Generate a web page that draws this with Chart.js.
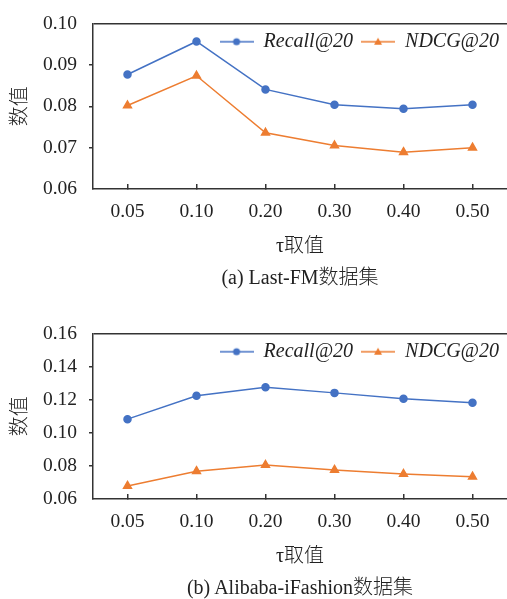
<!DOCTYPE html>
<html>
<head>
<meta charset="utf-8">
<script src="https://cdn.jsdelivr.net/npm/chart.js@4.4.0/dist/chart.umd.min.js"></script>
<style>
  html, body { margin: 0; background: #fff; overflow: hidden; }
  .box { position: absolute; left: 0; width: 507px; height: 289px; }
  .cap { position: absolute; left: 93px; width: 414px; text-align: center;
         font: 300 20px "Liberation Serif", "Noto Sans CJK SC", serif; color: #222;
         line-height: 24px; }
</style>
</head>
<body>
<div class="box" style="top:0"><canvas id="lastfm"></canvas></div>
<div class="cap" style="top:265px">(a) Last-FM数据集</div>
<div class="box" style="top:310px"><canvas id="alibaba"></canvas></div>
<div class="cap" style="top:575px">(b) Alibaba-iFashion数据集</div>
<script>
// valores de tau
const tauLabels = ["0.05", "0.10", "0.20", "0.30", "0.40", "0.50"];

// Last-FM
const lastfmRecall = [0.0877, 0.0957, 0.0841, 0.0804, 0.0794, 0.0804];
const lastfmNdcg = [0.0802, 0.0874, 0.0736, 0.0705, 0.0689, 0.0700];

// Alibaba-iFashion
const aliRecall = [0.1083, 0.1225, 0.1276, 0.1242, 0.1207, 0.1182];
const aliNdcg = [0.0679, 0.0768, 0.0805, 0.0776, 0.0751, 0.0735];

const azul = '#4472C4';
const naranja = '#ED7D31';
const ejeColor = '#333333';
const serif = '"Liberation Serif", "Noto Sans CJK SC", serif';

// icono de leyenda: linea con marcador
function iconoLeyenda(color, forma) {
    const c = document.createElement('canvas');
    c.width = 34;
    c.height = 10;
    const g = c.getContext('2d');
    g.strokeStyle = color;
    g.fillStyle = color;
    g.lineWidth = 1.5;
    g.beginPath();
    g.moveTo(0, 5);
    g.lineTo(34, 5);
    g.stroke();
    g.beginPath();
    if (forma === 'circle') {
        g.arc(17, 5, 3.5, 0, Math.PI * 2);
    } else {
        g.moveTo(17, 1);
        g.lineTo(21, 8);
        g.lineTo(13, 8);
        g.closePath();
    }
    g.fill();
    return c;
}

const iconos = [iconoLeyenda(azul, 'circle'), iconoLeyenda(naranja, 'triangle')];

// la leyenda va dentro del area del grafico: no ocupa alto en el layout
const leyendaDentro = {
    id: 'leyendaDentro',
    beforeLayout(chart) {
        const lg = chart.legend;
        if (lg && !lg._dentro) {
            const fitOrig = lg.fit;
            lg.fit = function () {
                fitOrig.call(this);
                this._altoReal = this.height;
                this.height = 0;
            };
            lg._dentro = true;
        }
    },
    afterLayout(chart) {
        const lg = chart.legend;
        if (lg) {
            lg.top = chart.chartArea.top;
            lg.height = lg._altoReal;
            lg.bottom = lg.top + lg._altoReal;
        }
    }
};

function crearGrafico(id, recall, ndcg, yMin, yMax, paso) {
    const ctx = document.getElementById(id).getContext('2d');
    return new Chart(ctx, {
        type: 'line',
        data: {
            labels: tauLabels,
            datasets: [{
                label: 'Recall@20',
                data: recall,
                borderColor: azul,
                backgroundColor: azul,
                borderWidth: 1.5,
                pointStyle: 'circle',
                pointRadius: 3.5,
                tension: 0
            }, {
                label: 'NDCG@20',
                data: ndcg,
                borderColor: naranja,
                backgroundColor: naranja,
                borderWidth: 1.5,
                pointStyle: 'triangle',
                pointRadius: 4.5,
                tension: 0
            }]
        },
        plugins: [leyendaDentro],
        options: {
            responsive: true,
            maintainAspectRatio: false,
            animation: false,
            layout: { autoPadding: false, padding: { top: 15, bottom: 28, left: 0, right: 0 } },
            plugins: {
                tooltip: { enabled: false },
                legend: {
                    position: 'top',
                    align: 'end',
                    labels: {
                        usePointStyle: true,
                        pointStyleWidth: 34,
                        padding: 8,
                        color: '#222',
                        font: { family: serif, size: 20, style: 'italic' },
                        generateLabels: chart => {
                            const items = Chart.defaults.plugins.legend.labels.generateLabels(chart);
                            items.forEach((it, i) => { it.pointStyle = iconos[i]; });
                            return items;
                        }
                    }
                }
            },
            scales: {
                x: {
                    offset: true,
                    afterFit: s => {
                        s.height = 72;
                        s.paddingLeft = 0;
                        s.paddingRight = 0;
                    },
                    grid: {
                        offset: false,
                        drawOnChartArea: false,
                        tickLength: -5,
                        color: ejeColor,
                        lineWidth: 1.5
                    },
                    border: { color: ejeColor, width: 1.5 },
                    ticks: {
                        padding: 16,
                        color: '#222',
                        font: { family: serif, size: 19.5 }
                    },
                    title: {
                        display: true,
                        text: 'τ取值',
                        color: '#222',
                        font: { family: serif, size: 20, weight: '300' },
                        padding: { top: 9.6, bottom: 2 }
                    }
                },
                y: {
                    min: yMin,
                    max: yMax,
                    afterFit: s => { s.width = 93; },
                    grid: {
                        tickLength: 4,
                        lineWidth: 1.5,
                        color: c => Math.abs(c.tick.value - yMax) < 1e-9 ? ejeColor : 'rgba(0,0,0,0)',
                        tickColor: c => (Math.abs(c.tick.value - yMax) < 1e-9 || Math.abs(c.tick.value - yMin) < 1e-9) ? 'rgba(0,0,0,0)' : ejeColor
                    },
                    border: { color: ejeColor, width: 1.5 },
                    ticks: {
                        stepSize: paso,
                        padding: 12,
                        color: '#222',
                        font: { family: serif, size: 19.5 },
                        callback: v => v.toFixed(2)
                    },
                    title: {
                        display: true,
                        text: '数值',
                        color: '#222',
                        font: { family: serif, size: 20, weight: '300' },
                        padding: { top: 9, bottom: 0 }
                    }
                }
            }
        }
    });
}

crearGrafico('lastfm', lastfmRecall, lastfmNdcg, 0.06, 0.10, 0.01);
crearGrafico('alibaba', aliRecall, aliNdcg, 0.06, 0.16, 0.02);
</script>
</body>
</html>
